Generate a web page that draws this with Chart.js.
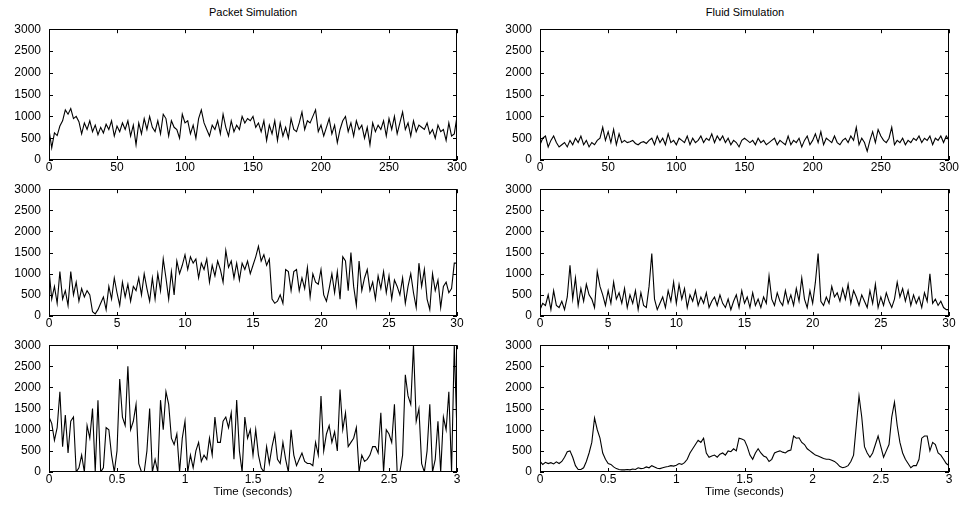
<!DOCTYPE html>
<html>
<head>
<meta charset="utf-8">
<script src="https://cdn.jsdelivr.net/npm/chart.js@4.4.1/dist/chart.umd.min.js"></script>
<style>
  html, body { margin: 0; padding: 0; background: #fff; overflow: hidden; }
  body { width: 964px; height: 505px; position: relative; font-family: 'Liberation Sans', Arial, sans-serif; }
  canvas { position: absolute; }
  .title { position: absolute; top: 6px; width: 300px; font-size: 11px; text-align: center; color: #000; }
</style>
</head>
<body>
<div class="title" style="left:103px">Packet Simulation</div>
<div class="title" style="left:595px">Fluid Simulation</div>
<canvas id="p1" width="482" height="162" style="left:0;top:14px"></canvas>
<canvas id="f1" width="473" height="162" style="left:491px;top:14px"></canvas>
<canvas id="p2" width="482" height="158" style="left:0;top:174px"></canvas>
<canvas id="f2" width="473" height="158" style="left:491px;top:174px"></canvas>
<canvas id="p3" width="482" height="175" style="left:0;top:330px"></canvas>
<canvas id="f3" width="473" height="175" style="left:491px;top:330px"></canvas>
<script>
// tick labels
const yTicks = [0, 500, 1000, 1500, 2000, 2500, 3000];
const ticks300 = [0, 50, 100, 150, 200, 250, 300];
const ticks30 = [0, 5, 10, 15, 20, 25, 30];
const ticks3 = [0, 0.5, 1, 1.5, 2, 2.5, 3];

// 0-300 s, one sample every 2 s
const packetLong = [700, 280, 620, 560, 780, 900, 1150, 1050, 1180, 950, 1000,
  880, 600, 850, 700, 900, 650, 800, 580, 750, 620,
  820, 700, 900, 550, 780, 650, 850, 700, 900, 550,
  800, 350, 850, 600, 950, 700, 1000, 750, 650, 900,
  600, 1050, 950, 550, 900, 750, 700, 500, 1050, 850,
  900, 600, 800, 500, 950, 1150, 850, 700, 550, 800,
  700, 900, 600, 1050, 750, 550, 900, 650, 800, 700,
  1000, 850, 950, 900, 1000, 750, 850, 650, 900, 450,
  800, 600, 900, 450, 850, 550, 750, 500, 950, 700,
  650, 850, 1100, 700, 900, 850, 1000, 1150, 650, 800,
  550, 750, 950, 600, 800, 400, 700, 900, 1000, 650,
  850, 550, 900, 700, 800, 500, 750, 350, 850, 650,
  800, 700, 900, 550, 950, 700, 1000, 600, 850, 1100,
  700, 850, 550, 900, 650, 800, 750, 700, 850, 600,
  700, 500, 800, 650, 700, 450, 850, 550, 600, 1000];
const fluidLong = [350, 500, 550, 300, 450, 550, 400, 300, 350, 400, 300,
  450, 350, 500, 400, 550, 350, 450, 300, 400, 350,
  450, 500, 750, 450, 650, 400, 700, 350, 600, 400,
  450, 400, 420, 450, 380, 350, 400, 420, 380, 450,
  500, 350, 550, 400, 500, 350, 600, 400, 450, 350,
  500, 450, 400, 550, 350, 500, 400, 450, 550, 400,
  500, 450, 600, 400, 550, 450, 550, 400, 500, 350,
  450, 400, 300, 450, 500, 450, 400, 450, 350, 500,
  400, 450, 350, 400, 450, 500, 350, 450, 400, 350,
  550, 350, 450, 400, 500, 300, 450, 550, 350, 450,
  600, 400, 650, 350, 500, 450, 400, 550, 400, 350,
  450, 500, 400, 550, 450, 750, 350, 500, 400, 200,
  450, 650, 400, 700, 550, 450, 400, 500, 750, 350,
  450, 400, 500, 350, 450, 400, 500, 450, 550, 400,
  500, 450, 550, 350, 500, 450, 550, 400, 550, 450];

// 0-30 s, one sample every 0.2 s
const packetMid = [1100, 400, 700, 300, 1050, 400, 600, 250, 1050, 500, 800,
  350, 650, 450, 600, 500, 100, 50, 150, 300, 450,
  150, 700, 400, 900, 550, 250, 800, 450, 750, 350,
  700, 600, 900, 500, 1000, 650, 350, 900, 400, 1000,
  600, 1350, 900, 400, 1050, 500, 1300, 1000, 1200, 1450,
  1100, 1400, 1250, 1350, 900, 1250, 1100, 1350, 800, 1200,
  950, 1300, 1100, 800, 1550, 1150, 1300, 900, 1250, 850,
  1250, 1100, 1300, 1000, 1200, 1400, 1650, 1300, 1450, 1200,
  1350, 400, 300, 350, 500, 300, 1100, 1050, 600, 1050,
  1100, 600, 900, 650, 1150, 450, 1000, 800, 750, 1100,
  500, 350, 650, 1000, 550, 1050, 400, 1400, 1300, 600,
  1500, 700, 250, 1300, 600, 900, 1100, 600, 800, 400,
  950, 650, 1050, 550, 950, 400, 850, 700, 500, 900,
  300, 700, 1000, 550, 200, 1250, 700, 1100, 400, 150,
  1000, 600, 850, 200, 700, 800, 550, 650, 1250, 1250];
const fluidMid = [150, 300, 250, 500, 150, 600, 250, 200, 350, 150, 450,
  1200, 400, 900, 250, 650, 350, 750, 500, 400, 200,
  1050, 700, 500, 250, 600, 300, 800, 400, 550, 300,
  650, 200, 500, 300, 600, 150, 550, 250, 200, 700,
  1480, 400, 150, 300, 450, 200, 600, 350, 800, 300,
  750, 400, 650, 200, 500, 350, 600, 250, 450, 300,
  550, 200, 350, 450, 250, 500, 300, 200, 400, 150,
  350, 500, 200, 600, 300, 450, 200, 550, 250, 400,
  200, 450, 300, 950, 400, 250, 550, 350, 250, 600,
  300, 500, 250, 650, 350, 900, 400, 200, 600, 300,
  800, 1480, 350, 250, 450, 300, 700, 450, 550, 350,
  650, 400, 750, 300, 600, 450, 250, 500, 350, 200,
  600, 300, 750, 200, 450, 250, 550, 350, 200, 400,
  800, 450, 650, 350, 600, 250, 500, 300, 450, 200,
  550, 350, 1000, 300, 400, 250, 350, 200, 150, 150];

// 0-3 s, one sample every 0.02 s
const packetShort = [1300, 1150, 750, 1050, 1900, 600, 1350, 450, 1200, 1300, 0,
  100, 400, 0, 1100, 800, 1500, 0, 1700, 0, 100,
  1050, 1000, 400, 0, 500, 2200, 1300, 1100, 2500, 1000,
  1200, 1600, 200, 0, 0, 500, 1500, 0, 300, 0,
  1700, 1000, 1900, 1600, 800, 650, 900, 0, 800, 1200,
  0, 400, 100, 500, 700, 250, 400, 300, 800, 400,
  1300, 700, 700, 1200, 1300, 1050, 1400, 300, 1700, 500,
  0, 1300, 800, 1000, 400, 1000, 400, 100, 0, 600,
  200, 600, 900, 300, 200, 700, 300, 0, 1000, 400,
  150, 300, 450, 250, 200, 200, 150, 700, 400, 1800,
  500, 900, 1100, 700, 950, 500, 1950, 1000, 1400, 600,
  700, 800, 1050, 0, 400, 250, 300, 400, 600, 600,
  450, 1400, 0, 1000, 900, 700, 1600, 0, 0, 400,
  2300, 1800, 1600, 3000, 1200, 1500, 200, 0, 500, 1600,
  0, 300, 1200, 0, 1300, 1000, 1900, 0, 3000, 900];
const fluidShort = [250, 180, 230, 200, 220, 190, 240, 200, 250, 350, 480,
  500, 350, 150, 60, 60, 100, 250, 450, 700, 1280,
  1000, 800, 450, 300, 200, 180, 120, 80, 60, 50,
  50, 60, 50, 70, 60, 100, 80, 90, 120, 100,
  150, 120, 90, 80, 100, 120, 130, 150, 140, 160,
  200, 180, 220, 300, 450, 550, 650, 750, 700, 800,
  450, 350, 380, 400, 350, 420, 450, 400, 500, 480,
  550, 500, 800, 780, 750, 600, 400, 300, 450, 550,
  450, 380, 350, 250, 300, 450, 480, 500, 470, 450,
  500, 520, 850, 800, 810, 700, 650, 550, 500, 450,
  400, 380, 350, 320, 300, 300, 280, 250, 200, 130,
  100, 120, 150, 250, 400, 1100, 1800, 1300, 600, 450,
  350, 450, 650, 850, 600, 350, 500, 650, 1300, 1650,
  1100, 700, 450, 300, 200, 100, 150, 150, 300, 800,
  850, 850, 500, 700, 650, 450, 400, 300, 200, 150];

Chart.defaults.font.family = "'Liberation Sans', Arial, sans-serif";
Chart.defaults.font.size = 12;
Chart.defaults.color = '#000';

// gnuplot-like box with inward ticks on all four sides
const frame = {
  id: 'frame',
  afterDatasetsDraw(chart) {
    const { ctx, chartArea: a, scales: { x, y } } = chart;
    ctx.save();
    ctx.strokeStyle = '#000';
    ctx.lineWidth = 1;
    ctx.beginPath();
    y.ticks.forEach(t => {
      const py = Math.round(y.getPixelForValue(t.value)) + 0.5;
      ctx.moveTo(a.left, py); ctx.lineTo(a.left + 4, py);
      ctx.moveTo(a.right, py); ctx.lineTo(a.right - 4, py);
    });
    x.ticks.forEach(t => {
      const px = Math.round(x.getPixelForValue(t.value)) + 0.5;
      ctx.moveTo(px, a.bottom); ctx.lineTo(px, a.bottom - 4);
      ctx.moveTo(px, a.top); ctx.lineTo(px, a.top + 4);
    });
    ctx.stroke();
    ctx.strokeRect(Math.round(a.left) + 0.5, Math.round(a.top) + 0.5,
      Math.round(a.right - a.left) - 1, Math.round(a.bottom - a.top) - 1);
    ctx.restore();
  }
};

function makePanel(id, values, step, xTicks, padRight, xTitle) {
  const points = values.map((v, i) => ({ x: +(i * step).toFixed(2), y: v }));
  new Chart(document.getElementById(id), {
    type: 'line',
    data: {
      datasets: [{
        data: points,
        borderColor: '#000',
        borderWidth: 1.1,
        pointRadius: 0,
        tension: 0,
        fill: false
      }]
    },
    options: {
      responsive: false,
      animation: false,
      events: [],
      layout: { padding: { top: 10, right: padRight, left: 0, bottom: 0 } },
      plugins: { legend: { display: false }, tooltip: { enabled: false } },
      scales: {
        x: {
          type: 'linear',
          min: xTicks[0],
          max: xTicks[xTicks.length - 1],
          afterBuildTicks: s => { s.ticks = xTicks.map(v => ({ value: v })); },
          afterFit: s => { s.height = xTitle ? 33 : 16; },
          grid: { display: false, drawTicks: false },
          border: { display: false },
          ticks: { padding: 0, maxRotation: 0, autoSkip: false, callback: v => String(v) },
          title: { display: !!xTitle, text: xTitle, font: { size: 11.5 }, padding: { top: 0, bottom: 6 } }
        },
        y: {
          min: 0,
          max: 3000,
          afterBuildTicks: s => { s.ticks = yTicks.map(v => ({ value: v })); },
          afterFit: s => { s.width = 49; },
          grid: { display: false, drawTicks: false },
          border: { display: false },
          ticks: { padding: 8, autoSkip: false, callback: v => String(v) }
        }
      }
    },
    plugins: [frame]
  });
}

makePanel('p1', packetLong, 2, ticks300, 25, '');
makePanel('f1', fluidLong, 2, ticks300, 15, '');
makePanel('p2', packetMid, 0.2, ticks30, 25, '');
makePanel('f2', fluidMid, 0.2, ticks30, 15, '');
makePanel('p3', packetShort, 0.02, ticks3, 25, 'Time (seconds)');
makePanel('f3', fluidShort, 0.02, ticks3, 15, 'Time (seconds)');
</script>
</body>
</html>
